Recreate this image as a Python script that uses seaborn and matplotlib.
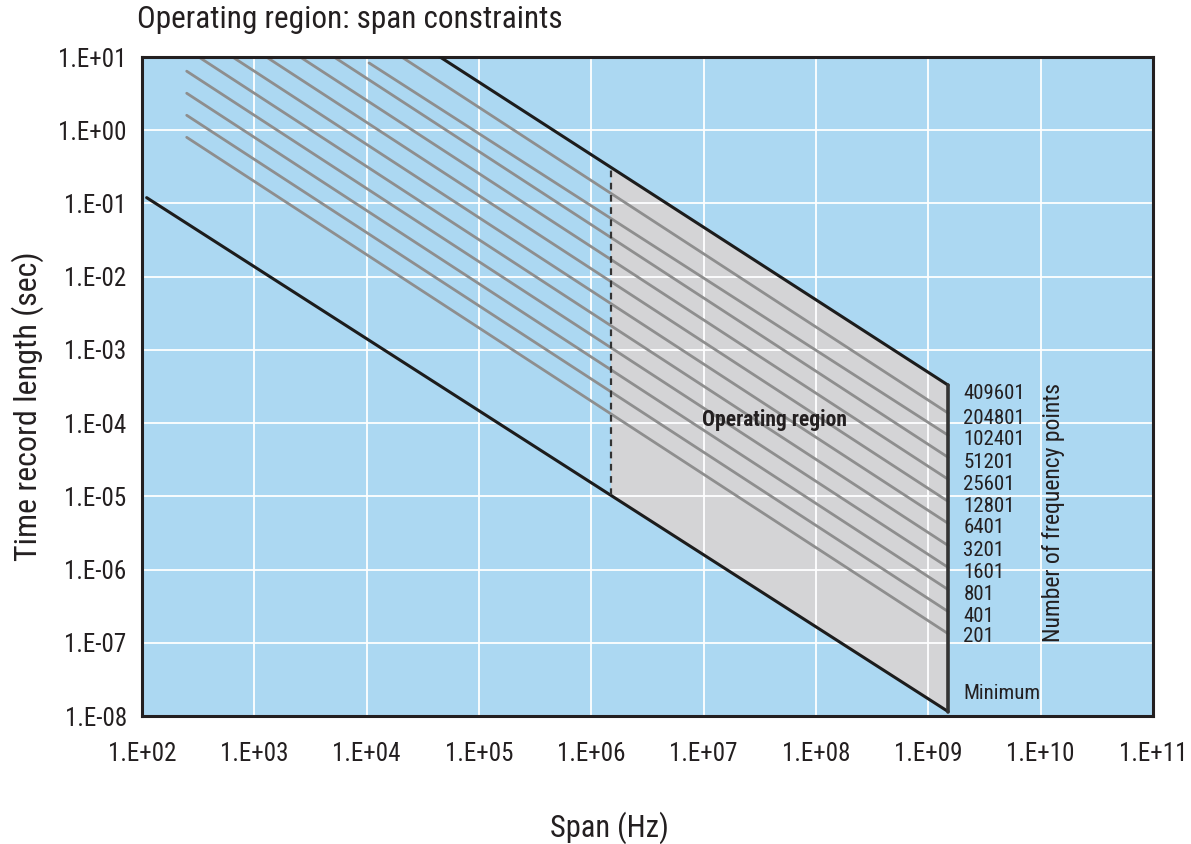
import numpy as np
import pandas as pd
import matplotlib
matplotlib.use("Agg")
import matplotlib.pyplot as plt
import seaborn as sns
from matplotlib import font_manager

# ---------------------------
# Data
# ---------------------------
point_labels = ["201", "401", "801", "1601", "3201", "6401", "12801",
                "25601", "51201", "102401", "204801", "409601"]
# gray lines (201 ... 204801); the 409601 line is the black upper bound
gray_span_start = [250, 250, 250, 250, 320, 640, 1280, 2560, 5120, 10500, 20500]
gray_t_start = [0.8, 1.6, 3.2, 6.4, 10, 10, 10, 10, 10, 8.3, 10]
gray_span_end = [1.5e9] * 11
gray_t_end = [1.33e-7, 2.67e-7, 5.33e-7, 1.07e-6, 2.13e-6, 4.27e-6, 8.53e-6,
              1.71e-5, 3.41e-5, 6.83e-5, 1.37e-4]

# label positions at the right edge
label_t = [1.2e-7, 2.3e-7, 4.6e-7, 9.2e-7, 1.84e-6, 3.7e-6, 7.3e-6,
           1.47e-5, 2.9e-5, 5.9e-5, 1.17e-4, 2.57e-4]

upper_span = [4.5e4, 1.5e9]
upper_t = [10, 3.3e-4]
min_span = [110, 1.5e9]
min_t = [0.12, 1.15e-8]
region_span = [1.5e6, 1.5e9]

x_ticks = [1e2, 1e3, 1e4, 1e5, 1e6, 1e7, 1e8, 1e9, 1e10, 1e11]
x_ticklabels = ["1.E+02", "1.E+03", "1.E+04", "1.E+05", "1.E+06",
                "1.E+07", "1.E+08", "1.E+09", "1.E+10", "1.E+11"]
y_ticks = [1e-8, 1e-7, 1e-6, 1e-5, 1e-4, 1e-3, 1e-2, 1e-1, 1e0, 1e1]
y_ticklabels = ["1.E-08", "1.E-07", "1.E-06", "1.E-05", "1.E-04",
                "1.E-03", "1.E-02", "1.E-01", "1.E+00", "1.E+01"]

# ---------------------------
# Style
# ---------------------------
sns.set_style("white")
names = {f.name for f in font_manager.fontManager.ttflist}
narrow = [n for n in ["Liberation Sans Narrow", "Roboto Condensed", "Open Sans Condensed"] if n in names]
plt.rcParams["font.family"] = narrow + ["DejaVu Sans"]
plt.rcParams["font.stretch"] = "condensed"

BLUE = "#acd8f2"
GRAY_FILL = "#d4d4d6"
GRAY_LINE = "#8e8e8e"
DARK = "#1c1c1c"
TXT = "#231f20"


def log_interp(x, xs, ys):
    return 10 ** np.interp(np.log10(x), np.log10(xs), np.log10(ys))


fig = plt.figure(figsize=(11.91, 8.44), dpi=100)
ax = fig.add_axes([142 / 1191, 1 - 716 / 844, (1153 - 142) / 1191, (716 - 57) / 844])
ax.set_facecolor(BLUE)
ax.set_xscale("log")
ax.set_yscale("log")
ax.set_xlim(1e2, 1e11)
ax.set_ylim(1e-8, 1e1)

# operating region fill
up_a = log_interp(region_span[0], upper_span, upper_t)
up_b = log_interp(region_span[1], upper_span, upper_t)
lo_a = log_interp(region_span[0], min_span, min_t)
lo_b = log_interp(region_span[1], min_span, min_t)
ax.fill([region_span[0], region_span[1], region_span[1], region_span[0]],
        [up_a, up_b, lo_b, lo_a], color=GRAY_FILL, zorder=1, lw=0)

# gray lines for each number of frequency points
rows = []
for lab, s0, t0, s1, t1 in zip(point_labels, gray_span_start, gray_t_start,
                               gray_span_end, gray_t_end):
    rows.append({"N": lab, "span": s0, "T": t0})
    rows.append({"N": lab, "span": s1, "T": t1})
df = pd.DataFrame(rows)
sns.lineplot(data=df, x="span", y="T", units="N", estimator=None,
             color=GRAY_LINE, lw=2.0, ax=ax, zorder=2)

# boundary lines
sns.lineplot(x=upper_span, y=upper_t, color=DARK, lw=2.2, ax=ax, zorder=3)
sns.lineplot(x=min_span, y=min_t, color=DARK, lw=2.2, ax=ax, zorder=3)
ax.plot([region_span[1], region_span[1]], [lo_b, up_b], color="#333333", lw=2.6, zorder=3)
ax.plot([region_span[0], region_span[0]], [lo_a, up_a], color="#333333", lw=1.6,
        ls=(0, (3, 2.5)), zorder=3)

# grid
ax.set_axisbelow("line")
ax.grid(True, which="major", color="white", lw=1.3)
ax.grid(False, which="minor")
ax.minorticks_off()

ax.set_xticks(x_ticks)
ax.set_xticklabels(x_ticklabels)
ax.set_yticks(y_ticks)
ax.set_yticklabels(y_ticklabels)
ax.tick_params(axis="both", length=0, labelsize=18, colors=TXT)
ax.tick_params(axis="x", pad=19)
ax.tick_params(axis="y", pad=11)
ax.set_xlabel("")
ax.set_ylabel("")

for sp in ax.spines.values():
    sp.set_visible(True)
    sp.set_color(TXT)
    sp.set_linewidth(2.2)

# annotations
for lab, t in zip(point_labels, label_t):
    ax.text(2.05e9, t, lab, fontsize=15, va="center", ha="left", color=TXT)
ax.text(2.05e9, 2.05e-8, "Minimum", fontsize=15, va="center", ha="left", color=TXT)
ax.text(1.3e10, 6.1e-6, "Number of frequency points", fontsize=17, rotation=90,
        va="center", ha="center", color=TXT)
ax.text(4.3e7, 1.1e-4, "Operating region", fontsize=15.5, fontweight="bold",
        va="center", ha="center", color=TXT)

fig.text(137 / 1191, 1 - 20 / 844, "Operating region: span constraints",
         fontsize=22.5, va="center", ha="left", color=TXT)
fig.text(609 / 1191, 1 - 828 / 844, "Span (Hz)", fontsize=22,
         va="center", ha="center", color=TXT)
fig.text(28 / 1191, 1 - 406 / 844, "Time record length (sec)", fontsize=23,
         rotation=90, va="center", ha="center", color=TXT)

fig.savefig("out.png", dpi=100)
